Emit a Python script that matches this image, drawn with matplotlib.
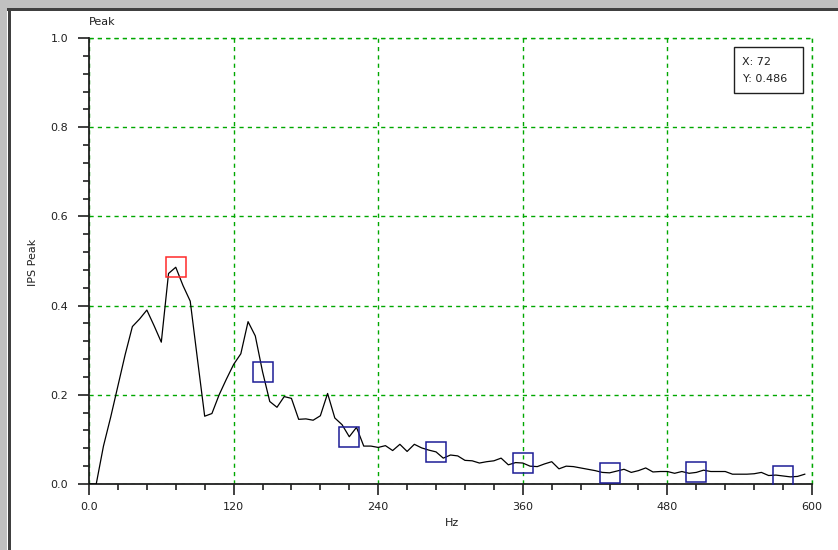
import matplotlib
matplotlib.use("Agg")
import matplotlib.pyplot as plt
from matplotlib.patches import Rectangle
from matplotlib.ticker import MultipleLocator, FuncFormatter

# Spectrum in 6 Hz bins
freq_hz = list(range(0, 600, 6))
ips_peak = [
    0.000, 0.000, 0.085, 0.150, 0.220, 0.290, 0.353, 0.370, 0.390, 0.355,
    0.318, 0.472, 0.486, 0.445, 0.410, 0.280, 0.152, 0.158, 0.200, 0.235,
    0.268, 0.292, 0.364, 0.332, 0.252, 0.185, 0.172, 0.196, 0.192, 0.145,
    0.146, 0.143, 0.153, 0.203, 0.148, 0.133, 0.106, 0.127, 0.085, 0.085,
    0.082, 0.086, 0.075, 0.089, 0.073, 0.089, 0.081, 0.076, 0.072, 0.058,
    0.065, 0.063, 0.053, 0.052, 0.047, 0.050, 0.052, 0.058, 0.043, 0.048,
    0.047, 0.040, 0.039, 0.045, 0.050, 0.034, 0.040, 0.039, 0.036, 0.033,
    0.030, 0.026, 0.025, 0.029, 0.033, 0.026, 0.030, 0.036, 0.027, 0.028,
    0.028, 0.024, 0.028, 0.024, 0.026, 0.031, 0.028, 0.028, 0.028, 0.022,
    0.022, 0.022, 0.023, 0.026, 0.019, 0.020, 0.018, 0.016, 0.017, 0.022,
]

# Fundamental and its harmonics
fundamental_hz = 72
harmonic_orders = [2, 3, 4, 5, 6, 7, 8]

peak_val = ips_peak[freq_hz.index(fundamental_hz)]
harm_hz = [fundamental_hz * n for n in harmonic_orders]
harm_val = [ips_peak[freq_hz.index(h)] for h in harm_hz]

W, H = 838, 550
fig = plt.figure(figsize=(W / 100, H / 100), dpi=100)
fig.patch.set_facecolor("white")

def px(x, y):
    return x / W, 1 - y / H

# window frame
fig.patches.append(Rectangle((0, 1 - 8 / H), 1, 8 / H, transform=fig.transFigure,
                             facecolor="#c0c0c0", edgecolor="none", zorder=0))
fig.patches.append(Rectangle((0, 0), 7 / W, 1, transform=fig.transFigure,
                             facecolor="#c0c0c0", edgecolor="none", zorder=0))
fig.patches.append(Rectangle((7 / W, 1 - 11 / H), 1, 3 / H, transform=fig.transFigure,
                             facecolor="#404040", edgecolor="none", zorder=1))
fig.patches.append(Rectangle((8 / W, 0), 3 / W, 1 - 8 / H, transform=fig.transFigure,
                             facecolor="#404040", edgecolor="none", zorder=1))

ax = fig.add_axes([89 / W, 66 / H, (812 - 89) / W, (484 - 38) / H])
ax.set_facecolor("white")

ax.plot(freq_hz, ips_peak, color="black", lw=0.9, zorder=3)
ax.plot(fundamental_hz, peak_val, "s", ms=15, mfc="none", mec="#ff2a2a", mew=1.1, zorder=4)
ax.plot(harm_hz, harm_val, "s", ms=15, mfc="none", mec="#1c1c96", mew=1.1,
        ls="none", zorder=4)

ax.set_xlim(0, 600)
ax.set_ylim(0, 1.0)
ax.xaxis.set_major_locator(MultipleLocator(120))
ax.xaxis.set_minor_locator(MultipleLocator(24))
ax.yaxis.set_major_locator(MultipleLocator(0.2))
ax.yaxis.set_minor_locator(MultipleLocator(0.04))
ax.xaxis.set_major_formatter(FuncFormatter(lambda v, p: "0.0" if v == 0 else f"{v:.0f}"))
ax.yaxis.set_major_formatter(FuncFormatter(lambda v, p: f"{v:.1f}"))

for s in ["top", "right"]:
    ax.spines[s].set_visible(False)
for s in ["left", "bottom"]:
    ax.spines[s].set_linewidth(1.3)
    ax.spines[s].set_color("#202020")

ax.tick_params(which="major", direction="out", length=8, width=1.2, color="#202020",
               labelsize=8, labelcolor="#202020")
ax.tick_params(which="minor", direction="out", length=4.3, width=1.2, color="#202020")
ax.tick_params(axis="y", which="major", pad=7)
ax.tick_params(axis="x", which="major", pad=5)

ax.grid(True, which="major", color="#00a800", lw=1.0, ls=(0, (3, 3)), zorder=1)
for s in (1.0,):
    ax.axhline(s, color="#00a800", lw=1.0, ls=(0, (3, 3)), zorder=1, clip_on=False)
ax.axvline(600, color="#00a800", lw=1.0, ls=(0, (3, 3)), zorder=1, clip_on=False)

# labels
fig.text(*px(89, 22), "Peak", fontsize=8, color="#202020", va="center", ha="left")
fig.text(*px(33, 262), "IPS Peak", fontsize=8, color="#202020", rotation=90,
         va="center", ha="center")
fig.text(*px(452, 523), "Hz", fontsize=8, color="#202020", va="center", ha="center")

# cursor readout
fig.patches.append(Rectangle(px(734, 93), 69 / W, 46 / H, transform=fig.transFigure,
                             facecolor="white", edgecolor="#202020", lw=1.0, zorder=5))
fig.text(*px(742, 62), f"X: {fundamental_hz}", fontsize=8, color="#202020",
         va="center", ha="left", zorder=6)
fig.text(*px(743, 79), f"Y: {peak_val:.3f}", fontsize=8, color="#202020",
         va="center", ha="left", zorder=6)

fig.savefig("out.png", dpi=100)
